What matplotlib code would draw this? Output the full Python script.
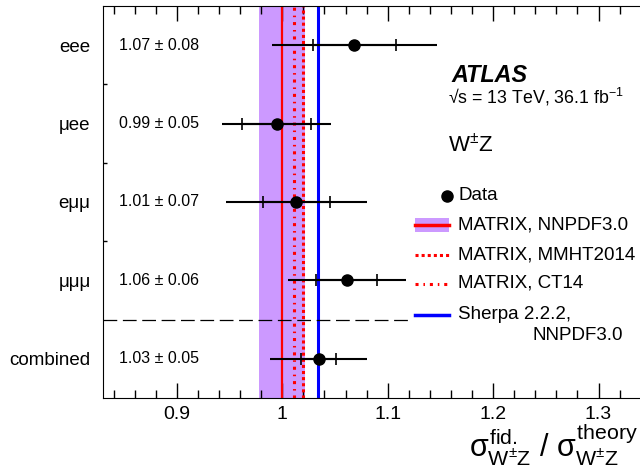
import matplotlib
matplotlib.use("Agg")
import matplotlib.pyplot as plt
from matplotlib.lines import Line2D
from matplotlib.patches import Rectangle
from matplotlib.ticker import MultipleLocator, FixedLocator

plt.rcParams['font.family'] = ['Liberation Sans', 'DejaVu Sans']
plt.rcParams['mathtext.fontset'] = 'custom'
plt.rcParams['mathtext.rm'] = 'Liberation Sans'
plt.rcParams['mathtext.it'] = 'Liberation Sans'
plt.rcParams['mathtext.bf'] = 'Liberation Sans:bold'

# ---- data ----
channels = ['eee', 'μee', 'eμμ', 'μμμ', 'combined']
values = [1.0685, 0.9946, 1.0133, 1.0613, 1.0344]
total_err = [0.078, 0.052, 0.067, 0.056, 0.046]
stat_err = [0.039, 0.033, 0.032, 0.029, 0.0166]
value_labels = ['1.07 ± 0.08', '0.99 ± 0.05', '1.01 ± 0.07', '1.06 ± 0.06', '1.03 ± 0.05']

matrix_nnpdf = 1.000
matrix_nnpdf_err = 0.022
matrix_mmht = 1.0195
matrix_ct14 = 1.0107
sherpa = 1.0336

xticks = [0.9, 1.0, 1.1, 1.2, 1.3]
xtick_labels = ['0.9', '1', '1.1', '1.2', '1.3']

W, H = 640, 476
fig = plt.figure(figsize=(W / 100, H / 100), dpi=100)
ax = fig.add_axes([103 / W, (H - 398) / H, 601 / W, 392 / H])

n = len(channels)
ypos = list(range(n, 0, -1))  # eee at top

ax.set_xlim(0.83, 1.40)
ax.set_ylim(0.5, n + 0.5)

# theory band and lines
ax.axvspan(matrix_nnpdf - matrix_nnpdf_err, matrix_nnpdf + matrix_nnpdf_err,
           color='#cc99ff', lw=0, zorder=1)
ax.axvline(matrix_nnpdf, color='#ff0000', lw=1.6, zorder=2)
ax.axvline(matrix_mmht, color='#ff0000', lw=2.2, ls=(0, (1.0, 1.0)), zorder=2)
ax.axvline(matrix_ct14, color='#ff0000', lw=2.2, ls=(0, (1.0, 1.6, 0.5, 1.6)), zorder=2)
ax.axvline(sherpa, color='#0000ff', lw=2.2, zorder=2)

# separator
ax.plot([0.83, 1.12], [1.5, 1.5], color='black', lw=0.9, ls=(0, (11, 4.5)), zorder=2)

# data
ax.errorbar(values, ypos, xerr=total_err, fmt='none', ecolor='black',
            elinewidth=1.5, capsize=0, zorder=3)
ax.errorbar(values, ypos, xerr=stat_err, fmt='none', ecolor='black',
            elinewidth=1.5, capsize=4, capthick=1.2, zorder=3)
ax.plot(values, ypos, 'o', color='black', ms=8, zorder=4)

for y, lab in zip(ypos, value_labels):
    ax.text(0.845, y, lab, va='center', ha='left', fontsize=11.5)

# axes styling
ax.spines['right'].set_visible(False)
ax.xaxis.set_major_locator(FixedLocator(xticks))
ax.set_xticklabels(xtick_labels, fontsize=14)
ax.xaxis.set_minor_locator(MultipleLocator(0.02))
ax.tick_params(axis='x', which='major', direction='in', length=11, width=1,
               top=True, pad=6)
ax.tick_params(axis='x', which='minor', direction='in', length=5.5, width=1, top=True)

ax.set_yticks(ypos)
ax.set_yticklabels(channels, fontsize=13.5)
ax.yaxis.set_minor_locator(FixedLocator([2.5, 3.5, 4.5]))
ax.tick_params(axis='y', which='major', length=0, pad=9)
ax.tick_params(axis='y', which='minor', direction='in', length=3, width=1)

# labels
def fx(px):
    return px / W

def fy(py):
    return 1 - py / H

fig.text(fx(451), fy(82), 'ATLAS', fontsize=16.8, fontweight='bold', fontstyle='italic')
fig.text(fx(448), fy(103), '√s = 13 TeV, 36.1 fb$^{-1}$', fontsize=12.8)
fig.text(fx(448), fy(152), 'W$^{\\pm}$Z', fontsize=16)

fig.text(fx(638), fy(458),
         r'$\sigma^{\mathrm{fid.}}_{\mathrm{W^{\pm}Z}}$ / $\sigma^{\mathrm{theory}}_{\mathrm{W^{\pm}Z}}$',
         fontsize=22, ha='right', va='baseline')

# legend (manual)
lx0, lx1, ltx = 415, 449, 458
fig.add_artist(Line2D([fx(446.7)], [fy(196)], marker='o', color='black', ms=8,
                      transform=fig.transFigure))
fig.text(fx(ltx), fy(196), 'Data', fontsize=13.5, va='center')

fig.add_artist(Rectangle((fx(lx0), fy(231.5)), fx(lx1) - fx(lx0), fy(218) - fy(231.5),
                         color='#cc99ff', lw=0, transform=fig.transFigure))
fig.add_artist(Line2D([fx(lx0), fx(lx1)], [fy(224.5)] * 2, color='#ff0000', lw=2.5,
                      transform=fig.transFigure))
fig.text(fx(ltx), fy(224.5), 'MATRIX, NNPDF3.0', fontsize=13.5, va='center')

fig.add_artist(Line2D([fx(lx0), fx(lx1)], [fy(254.5)] * 2, color='#ff0000', lw=2.2,
                      ls=(0, (1.0, 1.0)), transform=fig.transFigure))
fig.text(fx(ltx), fy(254.5), 'MATRIX, MMHT2014', fontsize=13.5, va='center')

fig.add_artist(Line2D([fx(lx0), fx(lx1)], [fy(283.5)] * 2, color='#ff0000', lw=2.2,
                      ls=(0, (1.0, 1.6, 0.5, 1.6)), transform=fig.transFigure))
fig.text(fx(ltx), fy(283.5), 'MATRIX, CT14', fontsize=13.5, va='center')

fig.add_artist(Line2D([fx(lx0), fx(lx1)], [fy(314.5)] * 2, color='#0000ff', lw=2.5,
                      transform=fig.transFigure))
fig.text(fx(ltx), fy(314.5), 'Sherpa 2.2.2,', fontsize=13.5, va='center')
fig.text(fx(532), fy(336), 'NNPDF3.0', fontsize=13.5, va='center')

fig.savefig('out.png', dpi=100)
